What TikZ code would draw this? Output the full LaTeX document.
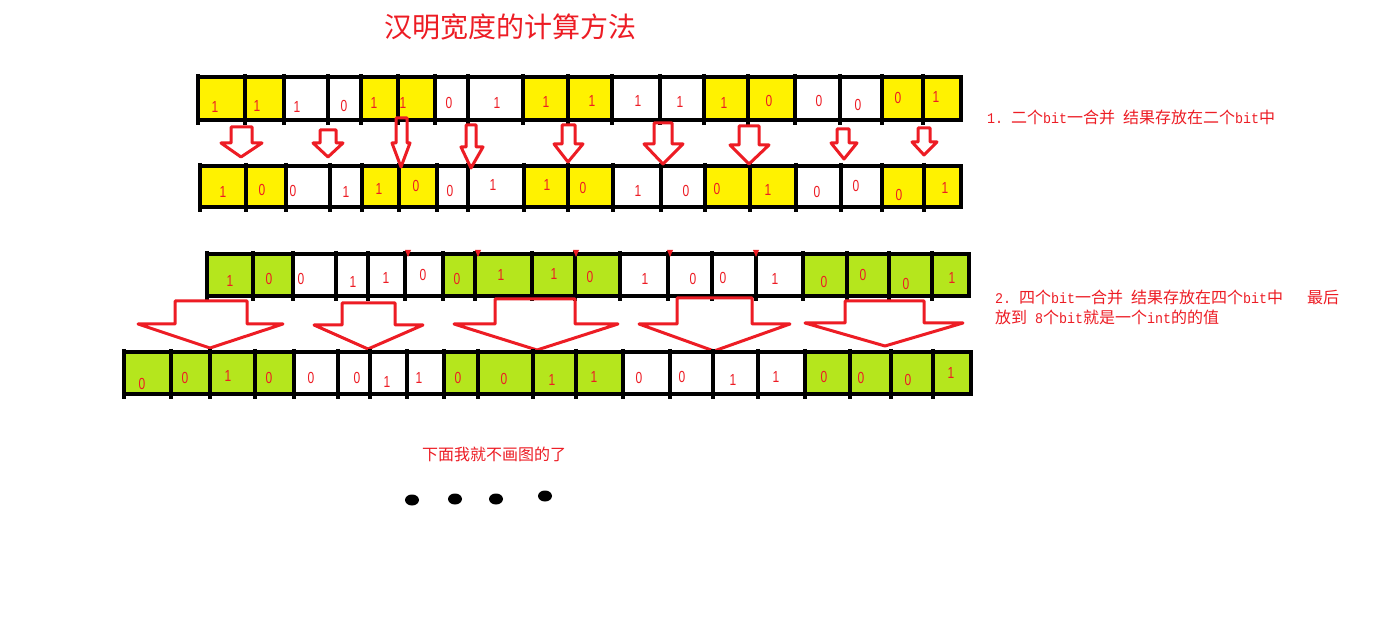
\documentclass[tikz,border=0pt]{standalone}
\usepackage{fontspec}
\setmainfont{Noto Sans CJK SC}
\newfontfamily\bitfont[FakeStretch=0.75]{Liberation Sans}
\newfontfamily\halffont[FakeStretch=0.9]{Liberation Mono}
\newcommand{\latinpart}[1]{{\halffont\fontsize{14.8}{16}\selectfont #1}}
\definecolor{paintred}{HTML}{ED1C24}
\definecolor{paintyellow}{HTML}{FFF200}
\definecolor{paintgreen}{HTML}{B5E61D}
\tikzset{
  cell/.style={draw=black, line width=4pt},
  tick/.style={black, line width=4pt},
  bit/.style={text=paintred, font=\bitfont\fontsize{16}{16}\selectfont, inner sep=0pt},
  downarrow/.style={draw=paintred, line width=3pt, line join=round},
  note/.style={text=paintred, font=\fontsize{16}{16}\selectfont, anchor=west, inner sep=0pt},
}
\begin{document}
\begin{tikzpicture}[x=1pt,y=-1pt]
    \useasboundingbox[fill=white] (0,0) rectangle (1379,620);
    \node[text=paintred, font=\fontsize{28}{30}\selectfont] (title) at (510,27) {汉明宽度的计算方法};
    % row 1: single bits
    \foreach \l/\r/\c/\d/\x/\y [count=\i] in {198/245/paintyellow/1/215/107, 245/284/paintyellow/1/257/106,
        284/328/white/1/297/107, 328/361/white/0/344/106, 361/398/paintyellow/1/374/103, 398/435/paintyellow/1/403/103,
        435/468/white/0/449/103, 468/523/white/1/497/103, 523/568/paintyellow/1/546/102, 568/612/paintyellow/1/592/101,
        612/660/white/1/638/101, 660/704/white/1/680/102, 704/748/paintyellow/1/724/103, 748/795/paintyellow/0/769/101,
        795/840/white/0/819/101, 840/882/white/0/858/105, 882/923/paintyellow/0/898/98, 923/961/paintyellow/1/936/97} {
        \draw[cell, fill=\c] (\l,77) rectangle (\r,120);
        \draw[tick] (\l,74) -- (\l,125);
        \node[bit] (one-\i) at (\x,\y) {\d};
    }
    % row 2: sums of two bits
    \foreach \l/\r/\c/\d/\x/\y [count=\i] in {200/246/paintyellow/1/223/192, 246/286/paintyellow/0/262/190,
        286/330/white/0/293/191, 330/362/white/1/346/192, 362/399/paintyellow/1/379/189, 399/437/paintyellow/0/416/186,
        437/468/white/0/450/191, 468/524/white/1/493/185, 524/568/paintyellow/1/547/185, 568/613/paintyellow/0/583/188,
        613/661/white/1/638/191, 661/705/white/0/686/191, 705/750/paintyellow/0/717/189, 750/796/paintyellow/1/768/190,
        796/841/white/0/817/192, 841/882/white/0/856/186, 882/924/paintyellow/0/899/195, 924/961/paintyellow/1/945/188} {
        \draw[cell, fill=\c] (\l,166) rectangle (\r,207);
        \draw[tick] (\l,163) -- (\l,212);
        \node[bit] (two-\i) at (\x,\y) {\d};
    }
    % small arrows between row 1 and row 2
    \foreach \sl/\sr/\st/\hy/\hl/\hr/\tx/\ty in {231/252/127/143/221/262/241/157, 320/336/130/143/313/343/328/157,
        396/407/118/143/392/410/401/167, 466/476/125/147/461/483/471/168, 562/575/125/144/554/583/568/162,
        654/672/123/144/644/683/663/164, 739/759/126/145/730/769/749/164, 837/849/129/143/831/857/844/159,
        918/930/128/142/912/937/924/155} {
        \draw[downarrow] (\sl,\st) -- (\sr,\st) -- (\sr,\hy) -- (\hr,\hy) -- (\tx,\ty) -- (\hl,\hy) -- (\sl,\hy) -- cycle;
    }
    % row 3: groups of four
    \foreach \l/\r/\c/\d/\x/\y [count=\i] in {207/253/paintgreen/1/230/281, 253/293/paintgreen/0/269/279,
        293/336/white/0/301/279, 336/368/white/1/353/282, 368/405/white/1/386/278, 405/443/white/0/423/275,
        443/475/paintgreen/0/457/279, 475/532/paintgreen/1/501/275, 532/575/paintgreen/1/554/274, 575/620/paintgreen/0/590/277,
        620/668/white/1/645/279, 668/712/white/0/693/279, 712/756/white/0/723/278, 756/803/white/1/775/279,
        803/847/paintgreen/0/824/282, 847/889/paintgreen/0/863/275, 889/932/paintgreen/0/906/284, 932/969/paintgreen/1/952/278} {
        \draw[cell, fill=\c] (\l,254) rectangle (\r,296);
        \draw[tick] (\l,251) -- (\l,301);
        \node[bit] (three-\i) at (\x,\y) {\d};
    }
    \foreach \m in {408,478,576,670,756}
        \fill[paintred] (\m-3,250) -- (\m+3,250) -- (\m,257) -- cycle;
    % big arrows between row 3 and row 4
    \foreach \sl/\sr/\st/\hy/\hl/\hr/\tx/\ty in {175/247/301/324/138/283/210/348, 342/395/303/325/314/423/368/349,
        495/575/299/324/454/618/537/350, 677/752/298/324/639/790/714/351, 845/924/301/323/805/963/885/346} {
        \draw[downarrow] (\sl,\st) -- (\sr,\st) -- (\sr,\hy) -- (\hr,\hy) -- (\tx,\ty) -- (\hl,\hy) -- (\sl,\hy) -- cycle;
    }
    % row 4
    \foreach \l/\r/\c/\d/\x/\y [count=\i] in {124/171/paintgreen/0/142/384, 171/210/paintgreen/0/185/378,
        210/255/paintgreen/1/228/376, 255/294/paintgreen/0/269/378, 294/338/white/0/311/378, 338/370/white/0/357/378,
        370/407/white/1/387/382, 407/444/white/1/419/378, 444/478/paintgreen/0/458/378, 478/533/paintgreen/0/504/379,
        533/576/paintgreen/1/552/380, 576/623/paintgreen/1/594/377, 623/670/white/0/639/378, 670/713/white/0/682/377,
        713/758/white/1/733/380, 758/805/white/1/776/377, 805/850/paintgreen/0/824/377, 850/891/paintgreen/0/861/378,
        891/933/paintgreen/0/908/380, 933/971/paintgreen/1/951/373} {
        \draw[cell, fill=\c] (\l,352) rectangle (\r,394);
        \draw[tick] (\l,349) -- (\l,399);
        \node[bit] (four-\i) at (\x,\y) {\d};
    }
    % notes
    \node[note] (step1) at (987,117) {\latinpart{1.\ }二个\latinpart{bit}一合并\latinpart{\ }结果存放在二个\latinpart{bit}中};
    \node[note] (step2) at (995,297) {\latinpart{2.\ }四个\latinpart{bit}一合并\latinpart{\ }结果存放在四个\latinpart{bit}中\latinpart{\ \ \ }最后};
    \node[note] (step2b) at (995,317) {放到\latinpart{\ 8}个\latinpart{bit}就是一个\latinpart{int}的的值};
    \node[text=paintred, font=\fontsize{16}{16}\selectfont] (rest) at (494,454) {下面我就不画图的了};
    \foreach \dx/\dy [count=\i] in {412/500, 455/499, 496/499, 545/496}
        \fill[black] (\dx,\dy) ellipse (7 and 5.5);
\end{tikzpicture}
\end{document}
